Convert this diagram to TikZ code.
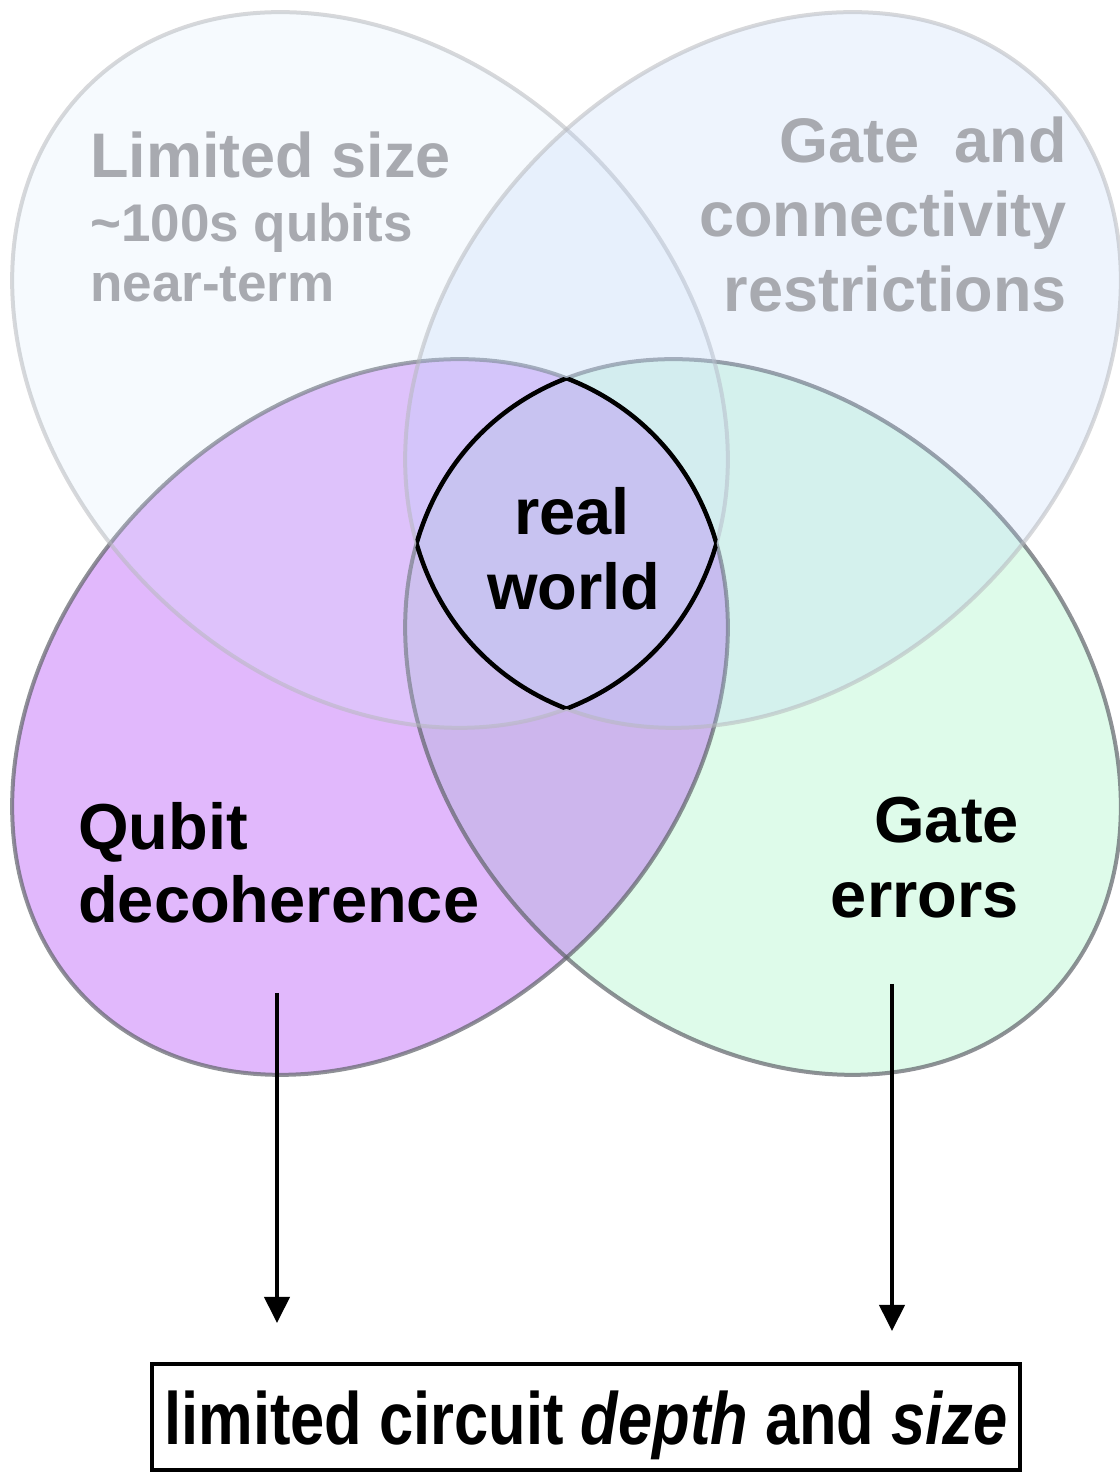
\documentclass[tikz,border=0pt]{standalone}
\usepackage{graphicx}
\usepackage{fontspec}
\setmainfont{Liberation Sans}
\usetikzlibrary{arrows.meta,positioning}
\definecolor{decoFill}{RGB}{225,184,252}
\definecolor{errFill}{RGB}{222,251,234}
\definecolor{bothFill}{RGB}{205,182,237}
\definecolor{sizeFill}{RGB}{214,232,250}
\definecolor{gateFill}{RGB}{183,209,248}
\definecolor{ovalLine}{RGB}{96,99,106}
\definecolor{faintLine}{RGB}{182,184,189}
\definecolor{fadedGray}{RGB}{168,170,176}

% the four overlapping ovals (1 unit = 1pt)
\newcommand{\ovalsize}{(370,1104) ellipse [x radius=400, y radius=310, rotate=-45]}
\newcommand{\ovalgate}{(763,1104) ellipse [x radius=400, y radius=310, rotate=45]}
\newcommand{\ovaldeco}{(370,757) ellipse [x radius=400, y radius=310, rotate=45]}
\newcommand{\ovalerr}{(763,757) ellipse [x radius=400, y radius=310, rotate=-45]}

\begin{document}
\begin{tikzpicture}[x=1pt,y=1pt,
    ovaledge/.style={draw=ovalLine,draw opacity=0.7,line width=4pt},
    faintedge/.style={draw=faintLine,draw opacity=0.55,line width=4pt},
    lensline/.style={draw=black,line width=4.5pt},
    fadedbig/.style={inner sep=0pt,text=fadedGray,font=\fontsize{63}{63}\selectfont\bfseries},
    fadedsmall/.style={inner sep=0pt,text=fadedGray,font=\fontsize{53}{53}\selectfont\bfseries},
    darktext/.style={inner sep=0pt,font=\fontsize{65}{65}\selectfont\bfseries},
    flowarrow/.style={-{Triangle[width=25pt,length=26pt]},line width=4pt}]
  \useasboundingbox (0,0) rectangle (1119,1474);
  % lower ovals
  \fill[decoFill] \ovaldeco;
  \fill[errFill] \ovalerr;
  \begin{scope}
    \clip \ovaldeco;
    \fill[bothFill] \ovalerr;
  \end{scope}
  \path[ovaledge] \ovaldeco;
  \path[ovaledge] \ovalerr;
  % upper ovals, washed out
  \path[faintedge,fill=sizeFill,fill opacity=0.22] \ovalsize;
  \path[faintedge,fill=gateFill,fill opacity=0.23] \ovalgate;
  % outline of the region inside all four
  \begin{scope}
    \clip \ovalgate; \clip \ovaldeco; \clip \ovalerr;
    \path[lensline] \ovalsize;
  \end{scope}
  \begin{scope}
    \clip \ovalsize; \clip \ovaldeco; \clip \ovalerr;
    \path[lensline] \ovalgate;
  \end{scope}
  \begin{scope}
    \clip \ovalsize; \clip \ovalgate; \clip \ovalerr;
    \path[lensline] \ovaldeco;
  \end{scope}
  \begin{scope}
    \clip \ovalsize; \clip \ovalgate; \clip \ovaldeco;
    \path[lensline] \ovalerr;
  \end{scope}
  % labels
  \node[fadedbig,anchor=base west] (size1) at (90,1296) {Limited size};
  \node[fadedsmall,anchor=base west] (size2) at (90,1232) {\textasciitilde100s qubits};
  \node[fadedsmall,anchor=base west] (size3) at (90,1172) {near-term};
  \node[fadedbig,anchor=base east] (gate1) at (1067,1311) {Gate\ \ and};
  \node[fadedbig,anchor=base east] (gate2) at (1067,1237) {connectivity};
  \node[fadedbig,anchor=base east] (gate3) at (1067,1162) {restrictions};
  \node[darktext,anchor=base] (real) at (572,939) {real};
  \node[darktext,anchor=base] (world) at (574,864) {world};
  \node[darktext,anchor=base west] (deco1) at (78,624) {Qubit};
  \node[darktext,anchor=base west] (deco2) at (78,551) {decoherence};
  \node[darktext,anchor=base east] (err1) at (1019,631) {Gate};
  \node[darktext,anchor=base east] (err2) at (1019,556) {errors};
  % outcome
  \node[draw,line width=4pt,minimum width=868pt,minimum height=106pt,inner sep=0pt,
        text height=62pt,text depth=6pt,font=\fontsize{74}{74}\selectfont\bfseries]
        (limits) at (586,57) {\scalebox{0.83}[1]{limited circuit \textit{depth} and \textit{size}}};
  \coordinate (decoTail) at (277,481);
  \coordinate (decoHead) at (277,151);
  \coordinate (errTail) at (892,490);
  \coordinate (errHead) at (892,143);
  \draw[flowarrow] (decoTail) -- (decoHead);
  \draw[flowarrow] (errTail) -- (errHead);
\end{tikzpicture}
\end{document}
